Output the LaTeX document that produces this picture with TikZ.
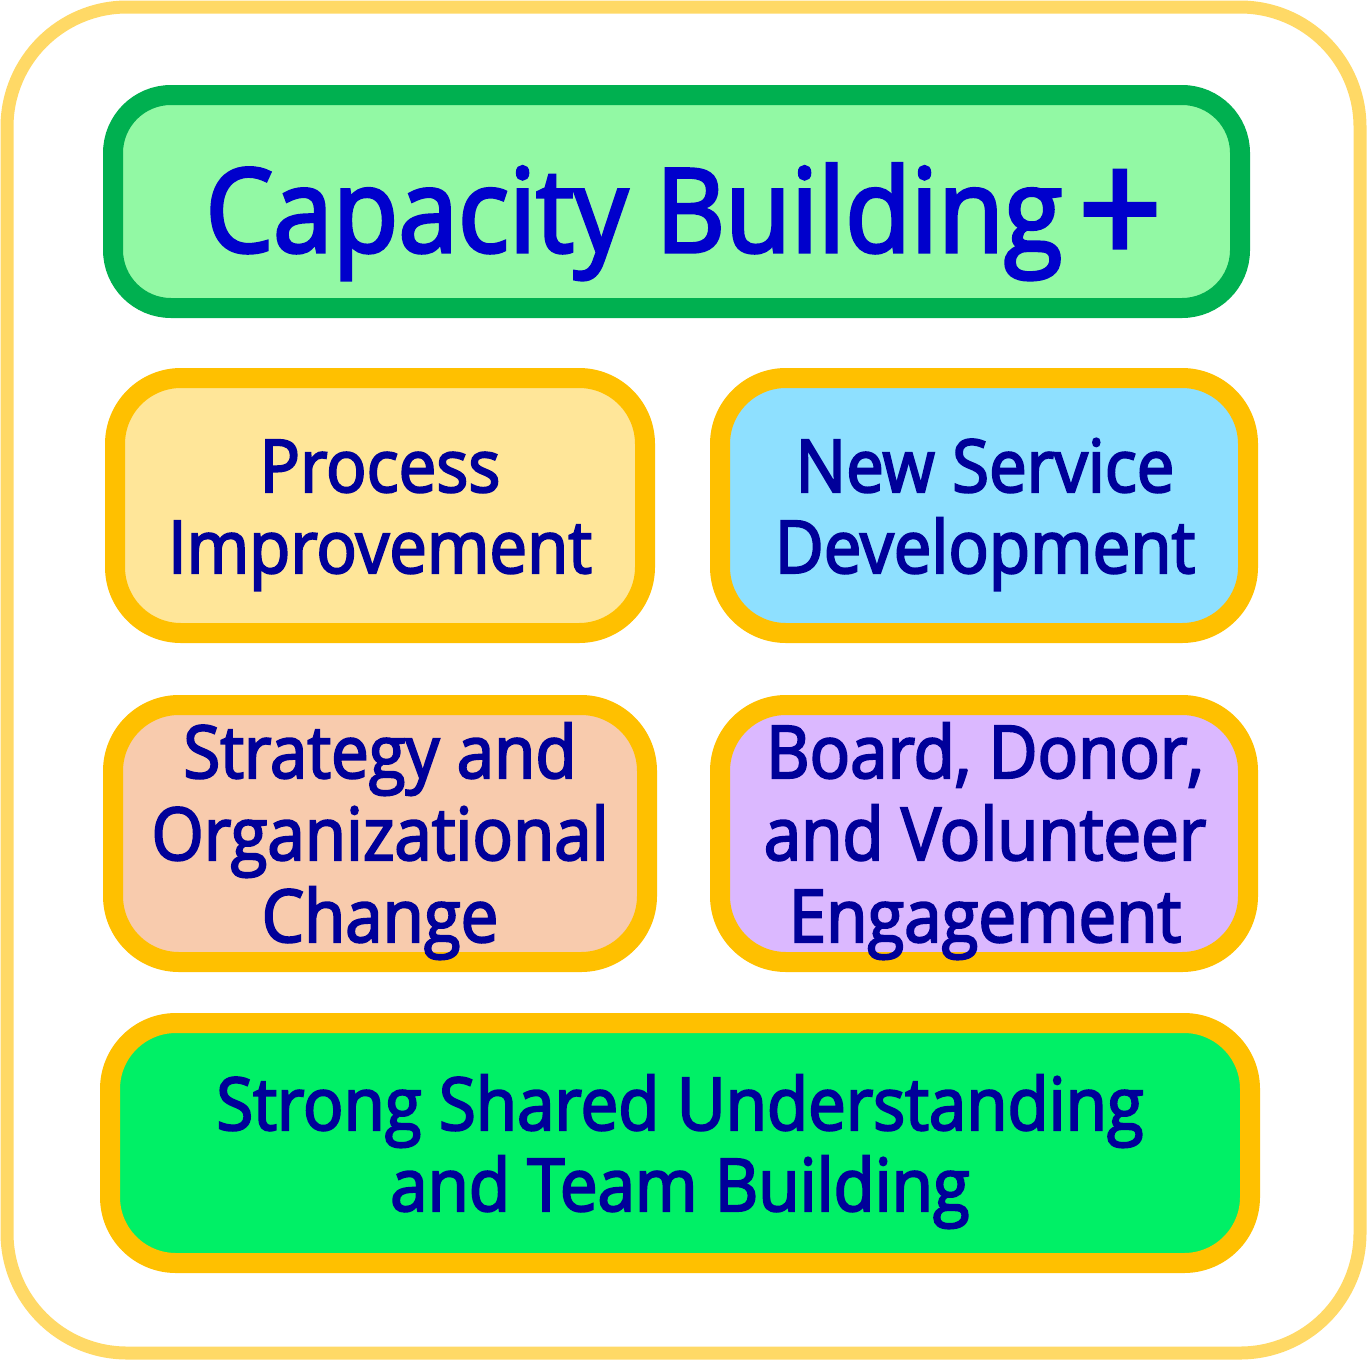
\documentclass[tikz,border=0pt]{standalone}
\usepackage{fontspec}
\setmainfont{Open Sans}[FakeBold=2.8,FakeStretch=0.92]
\definecolor{frameY}{HTML}{FFD966}
\definecolor{strokeG}{HTML}{00B050}
\definecolor{strokeY}{HTML}{FFC000}
\definecolor{fillTop}{HTML}{92F9A4}
\definecolor{fillProc}{HTML}{FFE699}
\definecolor{fillServ}{HTML}{8EE0FF}
\definecolor{fillStrat}{HTML}{F8CBAD}
\definecolor{fillBoard}{HTML}{DBB8FF}
\definecolor{fillBot}{HTML}{00F066}
\definecolor{titleC}{HTML}{0000CC}
\definecolor{textC}{HTML}{000099}
\tikzset{
  box/.style={draw=strokeY, line width=20pt, rounded corners=66pt, inner sep=0pt},
  lbl/.style={anchor=base, inner sep=0pt, text=textC, font=\fontsize{73}{81}\selectfont},
}
\begin{document}
\begin{tikzpicture}[x=1pt,y=-1pt]
\useasboundingbox (0,0) rectangle (1367,1360);
\fill[white] (0,0) rectangle (1367,1360);
\node[draw=frameY, line width=13pt, rounded corners=120pt, minimum width=1353pt, minimum height=1346pt, inner sep=0pt] (frame) at (683.5,680) {};
% top box
\node[draw=strokeG, fill=fillTop, line width=20pt, rounded corners=58pt, minimum width=1127pt, minimum height=213pt, inner sep=0pt] (top) at (676.5,201.5) {};
\node[anchor=base, inner sep=0pt, text=titleC, font=\fontsize{116.5}{120}\selectfont] (title) at (634,252) {Capacity Building};
\node[anchor=base, inner sep=0pt, text=titleC, font=\fontsize{158}{160}\selectfont] (plus) at (1120,265) {+};
% middle boxes
\node[box, fill=fillProc, minimum width=530pt, minimum height=255pt] (proc) at (380,505.5) {};
\node[box, fill=fillServ, minimum width=528pt, minimum height=255pt] (serv) at (984,505.5) {};
\node[box, fill=fillStrat, minimum width=534pt, minimum height=257pt] (strat) at (380,833.5) {};
\node[box, fill=fillBoard, minimum width=528pt, minimum height=257pt] (board) at (984,833.5) {};
\node[box, fill=fillBot, minimum width=1140pt, minimum height=240pt] (bot) at (680,1143) {};
% texts
\node[lbl] (p1) at (380,492) {Process};
\node[lbl] (p2) at (380,573) {Improvement};
\node[lbl] (s1) at (985,492) {New Service};
\node[lbl] (s2) at (985,573) {Development};
\node[lbl] (o1) at (380,778) {Strategy and};
\node[lbl] (o2) at (380,860) {Organizational};
\node[lbl] (o3) at (380,942) {Change};
\node[lbl] (b1) at (985,778) {Board, Donor,};
\node[lbl] (b2) at (985,860) {and Volunteer};
\node[lbl] (b3) at (985,942) {Engagement};
\node[lbl] (t1) at (680,1130) {Strong Shared Understanding};
\node[lbl] (t2) at (680,1211) {and Team Building};
\end{tikzpicture}
\end{document}
